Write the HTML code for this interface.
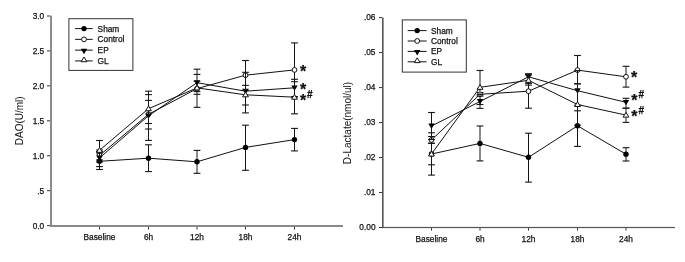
<!DOCTYPE html>
<html><head><meta charset="utf-8"><style>
html,body{margin:0;padding:0;background:#fff;}
body{width:685px;height:262px;overflow:hidden;}
svg{display:block;will-change:transform;}
text{font-family:"Liberation Sans", sans-serif;fill:#111;stroke:#111;stroke-width:0.25px;}
.t{font-size:8.3px;}
.a{font-size:10px;stroke-width:0;}
.s{font-size:16px;font-weight:bold;}
.h{font-size:10px;font-weight:bold;}
.l{fill:none;stroke:#111;stroke-width:1;}
.e{stroke:#0a0a0a;stroke-width:1.05;}
.c{stroke:#111;stroke-width:1.1;}
</style></head><body>
<svg width="685" height="262" viewBox="0 0 685 262">
<rect width="685" height="262" fill="#fff"/>
<rect x="50" y="15.6" width="2" height="211.4" fill="#8a8a8a"/>
<rect x="50" y="225" width="293" height="2" fill="#8a8a8a"/>
<rect x="47" y="15.5" width="3" height="1" fill="#333"/>
<text x="44.2" y="19" text-anchor="end" class="t">3.0</text>
<rect x="47" y="50.44" width="3" height="1" fill="#333"/>
<text x="44.2" y="53.94" text-anchor="end" class="t">2.5</text>
<rect x="47" y="85.38" width="3" height="1" fill="#333"/>
<text x="44.2" y="88.88" text-anchor="end" class="t">2.0</text>
<rect x="47" y="120.32" width="3" height="1" fill="#333"/>
<text x="44.2" y="123.82" text-anchor="end" class="t">1.5</text>
<rect x="47" y="155.26" width="3" height="1" fill="#333"/>
<text x="44.2" y="158.76" text-anchor="end" class="t">1.0</text>
<rect x="47" y="190.2" width="3" height="1" fill="#333"/>
<text x="44.2" y="193.7" text-anchor="end" class="t">.5</text>
<rect x="47" y="225.14" width="3" height="1" fill="#333"/>
<text x="44.2" y="228.64" text-anchor="end" class="t">0.0</text>
<rect x="99" y="227" width="1" height="2.5" fill="#333"/>
<text x="99.5" y="240" text-anchor="middle" class="t">Baseline</text>
<rect x="148" y="227" width="1" height="2.5" fill="#333"/>
<text x="148.5" y="240" text-anchor="middle" class="t">6h</text>
<rect x="196.5" y="227" width="1" height="2.5" fill="#333"/>
<text x="197" y="240" text-anchor="middle" class="t">12h</text>
<rect x="245" y="227" width="1" height="2.5" fill="#333"/>
<text x="245.5" y="240" text-anchor="middle" class="t">18h</text>
<rect x="294" y="227" width="1" height="2.5" fill="#333"/>
<text x="294.5" y="240" text-anchor="middle" class="t">24h</text>
<text transform="translate(23.1,120.8) rotate(-90)" text-anchor="middle" class="a">DAO(U/ml)</text>
<rect x="99" y="153" width="1" height="16.5" fill="#151515"/>
<rect x="96.1" y="152.45" width="6.8" height="1.1" fill="#151515"/>
<rect x="96.1" y="168.95" width="6.8" height="1.1" fill="#151515"/>
<rect x="148" y="144.8" width="1" height="26.8" fill="#151515"/>
<rect x="145.1" y="144.25" width="6.8" height="1.1" fill="#151515"/>
<rect x="145.1" y="171.05" width="6.8" height="1.1" fill="#151515"/>
<rect x="196" y="150.4" width="2" height="22.9" fill="#8c8c8c" style="mix-blend-mode:darken"/>
<rect x="193.6" y="149.85" width="6.8" height="1.1" fill="#151515"/>
<rect x="193.6" y="172.75" width="6.8" height="1.1" fill="#151515"/>
<rect x="245" y="125.2" width="1" height="45.1" fill="#151515"/>
<rect x="242.1" y="124.65" width="6.8" height="1.1" fill="#151515"/>
<rect x="242.1" y="169.75" width="6.8" height="1.1" fill="#151515"/>
<rect x="294" y="128.4" width="1" height="22.5" fill="#151515"/>
<rect x="291.1" y="127.85" width="6.8" height="1.1" fill="#151515"/>
<rect x="291.1" y="150.35" width="6.8" height="1.1" fill="#151515"/>
<polyline points="99.5,161.3 148.5,158.2 197,161.8 245.5,147.4 294.5,139.6" class="l"/>
<circle cx="99.5" cy="161.3" r="2.7" fill="#000"/>
<circle cx="148.5" cy="158.2" r="2.7" fill="#000"/>
<circle cx="197" cy="161.8" r="2.7" fill="#000"/>
<circle cx="245.5" cy="147.4" r="2.7" fill="#000"/>
<circle cx="294.5" cy="139.6" r="2.7" fill="#000"/>
<rect x="99" y="150" width="1" height="12" fill="#151515"/>
<rect x="96.1" y="149.45" width="6.8" height="1.1" fill="#151515"/>
<rect x="96.1" y="161.45" width="6.8" height="1.1" fill="#151515"/>
<rect x="148" y="100.4" width="1" height="28.6" fill="#151515"/>
<rect x="145.1" y="99.85" width="6.8" height="1.1" fill="#151515"/>
<rect x="145.1" y="128.45" width="6.8" height="1.1" fill="#151515"/>
<rect x="196" y="69.2" width="2" height="38.1" fill="#8c8c8c" style="mix-blend-mode:darken"/>
<rect x="193.6" y="68.65" width="6.8" height="1.1" fill="#151515"/>
<rect x="193.6" y="106.75" width="6.8" height="1.1" fill="#151515"/>
<rect x="245" y="60.5" width="1" height="29.6" fill="#151515"/>
<rect x="242.1" y="59.95" width="6.8" height="1.1" fill="#151515"/>
<rect x="242.1" y="89.55" width="6.8" height="1.1" fill="#151515"/>
<rect x="294" y="42.9" width="1" height="54.1" fill="#151515"/>
<rect x="291.1" y="42.35" width="6.8" height="1.1" fill="#151515"/>
<rect x="291.1" y="96.45" width="6.8" height="1.1" fill="#151515"/>
<polyline points="99.5,155.4 148.5,114.3 197,88.6 245.5,75.2 294.5,69.9" class="l"/>
<circle cx="99.5" cy="155.4" r="2.4000000000000004" fill="#fff" stroke="#111" stroke-width="1"/>
<circle cx="148.5" cy="114.3" r="2.4000000000000004" fill="#fff" stroke="#111" stroke-width="1"/>
<circle cx="197" cy="88.6" r="2.4000000000000004" fill="#fff" stroke="#111" stroke-width="1"/>
<circle cx="245.5" cy="75.2" r="2.4000000000000004" fill="#fff" stroke="#111" stroke-width="1"/>
<circle cx="294.5" cy="69.9" r="2.4000000000000004" fill="#fff" stroke="#111" stroke-width="1"/>
<rect x="99" y="151.5" width="1" height="15.1" fill="#151515"/>
<rect x="96.1" y="150.95" width="6.8" height="1.1" fill="#151515"/>
<rect x="96.1" y="166.05" width="6.8" height="1.1" fill="#151515"/>
<rect x="148" y="91.2" width="1" height="49.2" fill="#151515"/>
<rect x="145.1" y="90.65" width="6.8" height="1.1" fill="#151515"/>
<rect x="145.1" y="139.85" width="6.8" height="1.1" fill="#151515"/>
<rect x="196" y="74.4" width="2" height="17.2" fill="#8c8c8c" style="mix-blend-mode:darken"/>
<rect x="193.6" y="73.85" width="6.8" height="1.1" fill="#151515"/>
<rect x="193.6" y="91.05" width="6.8" height="1.1" fill="#151515"/>
<rect x="245" y="85.35" width="1" height="19.65" fill="#151515"/>
<rect x="242.1" y="84.8" width="6.8" height="1.1" fill="#151515"/>
<rect x="242.1" y="104.45" width="6.8" height="1.1" fill="#151515"/>
<rect x="294" y="79.3" width="1" height="17.3" fill="#151515"/>
<rect x="291.1" y="78.75" width="6.8" height="1.1" fill="#151515"/>
<rect x="291.1" y="96.05" width="6.8" height="1.1" fill="#151515"/>
<polyline points="99.5,157.9 148.5,115.8 197,82.7 245.5,91.2 294.5,87.8" class="l"/>
<path d="M96.3 155.5L102.7 155.5L99.5 160.94Z" fill="#000"/>
<path d="M145.3 113.4L151.7 113.4L148.5 118.84Z" fill="#000"/>
<path d="M193.8 80.3L200.2 80.3L197 85.74Z" fill="#000"/>
<path d="M242.3 88.8L248.7 88.8L245.5 94.24Z" fill="#000"/>
<path d="M291.3 85.4L297.7 85.4L294.5 90.84Z" fill="#000"/>
<rect x="99" y="140.5" width="1" height="19.5" fill="#151515"/>
<rect x="96.1" y="139.95" width="6.8" height="1.1" fill="#151515"/>
<rect x="96.1" y="159.45" width="6.8" height="1.1" fill="#151515"/>
<rect x="148" y="94.6" width="1" height="28.9" fill="#151515"/>
<rect x="145.1" y="94.05" width="6.8" height="1.1" fill="#151515"/>
<rect x="145.1" y="122.95" width="6.8" height="1.1" fill="#151515"/>
<rect x="196" y="81.2" width="2" height="13.1" fill="#8c8c8c" style="mix-blend-mode:darken"/>
<rect x="193.6" y="80.65" width="6.8" height="1.1" fill="#151515"/>
<rect x="193.6" y="93.75" width="6.8" height="1.1" fill="#151515"/>
<rect x="245" y="72.3" width="1" height="40.6" fill="#151515"/>
<rect x="242.1" y="71.75" width="6.8" height="1.1" fill="#151515"/>
<rect x="242.1" y="112.35" width="6.8" height="1.1" fill="#151515"/>
<rect x="294" y="81.7" width="1" height="32.1" fill="#151515"/>
<rect x="291.1" y="81.15" width="6.8" height="1.1" fill="#151515"/>
<rect x="291.1" y="113.25" width="6.8" height="1.1" fill="#151515"/>
<polyline points="99.5,150.3 148.5,108.7 197,87.9 245.5,94.8 294.5,97.2" class="l"/>
<path d="M96.6 152.33L102.4 152.33L99.5 147.55Z" fill="#fff" stroke="#111" stroke-width="1"/>
<path d="M145.6 110.73L151.4 110.73L148.5 105.95Z" fill="#fff" stroke="#111" stroke-width="1"/>
<path d="M194.1 89.93L199.9 89.93L197 85.15Z" fill="#fff" stroke="#111" stroke-width="1"/>
<path d="M242.6 96.83L248.4 96.83L245.5 92.05Z" fill="#fff" stroke="#111" stroke-width="1"/>
<path d="M291.6 99.23L297.4 99.23L294.5 94.45Z" fill="#fff" stroke="#111" stroke-width="1"/>
<text x="300" y="77.3" class="s">*</text>
<text x="300" y="95.4" class="s">*</text>
<text x="300" y="105.6" class="s">*</text>
<text x="307.1" y="97.7" class="h">#</text>
<rect x="68.9" y="18.7" width="64" height="51.7" fill="none" stroke="#333" stroke-width="1"/>
<line x1="75.1" y1="28.6" x2="92.7" y2="28.6" class="l"/>
<circle cx="84" cy="28.6" r="2.7" fill="#000"/>
<text x="97.6" y="31.6" class="t">Sham</text>
<line x1="75.1" y1="39.37" x2="92.7" y2="39.37" class="l"/>
<circle cx="84" cy="39.37" r="2.4000000000000004" fill="#fff" stroke="#111" stroke-width="1"/>
<text x="97.6" y="42.37" class="t">Control</text>
<line x1="75.1" y1="50.14" x2="92.7" y2="50.14" class="l"/>
<path d="M80.8 48.74L87.2 48.74L84 54.18Z" fill="#000"/>
<text x="97.6" y="53.14" class="t">EP</text>
<line x1="75.1" y1="60.91" x2="92.7" y2="60.91" class="l"/>
<path d="M81.1 61.74L86.9 61.74L84 56.95Z" fill="#fff" stroke="#111" stroke-width="1"/>
<text x="97.6" y="63.91" class="t">GL</text>
<rect x="382" y="17.5" width="1.6" height="210.6" fill="#555"/>
<rect x="382" y="226.9" width="293" height="1.2" fill="#555"/>
<rect x="379" y="17.12" width="3" height="1" fill="#333"/>
<text x="375.5" y="20.12" text-anchor="end" class="t">.06</text>
<rect x="379" y="52.1" width="3" height="1" fill="#333"/>
<text x="375.5" y="55.1" text-anchor="end" class="t">.05</text>
<rect x="379" y="87.08" width="3" height="1" fill="#333"/>
<text x="375.5" y="90.08" text-anchor="end" class="t">.04</text>
<rect x="379" y="122.06" width="3" height="1" fill="#333"/>
<text x="375.5" y="125.06" text-anchor="end" class="t">.03</text>
<rect x="379" y="157.04" width="3" height="1" fill="#333"/>
<text x="375.5" y="160.04" text-anchor="end" class="t">.02</text>
<rect x="379" y="192.02" width="3" height="1" fill="#333"/>
<text x="375.5" y="195.02" text-anchor="end" class="t">.01</text>
<rect x="379" y="227" width="3" height="1" fill="#333"/>
<text x="375.5" y="230" text-anchor="end" class="t">0.00</text>
<rect x="431" y="228.1" width="1" height="2.5" fill="#333"/>
<text x="431.5" y="241.9" text-anchor="middle" class="t">Baseline</text>
<rect x="479.5" y="228.1" width="1" height="2.5" fill="#333"/>
<text x="480" y="241.9" text-anchor="middle" class="t">6h</text>
<rect x="528" y="228.1" width="1" height="2.5" fill="#333"/>
<text x="528.5" y="241.9" text-anchor="middle" class="t">12h</text>
<rect x="577" y="228.1" width="1" height="2.5" fill="#333"/>
<text x="577.5" y="241.9" text-anchor="middle" class="t">18h</text>
<rect x="625.5" y="228.1" width="1" height="2.5" fill="#333"/>
<text x="626" y="241.9" text-anchor="middle" class="t">24h</text>
<text transform="translate(350.8,123) rotate(-90)" text-anchor="middle" class="a">D-Lactate(nmol/ul)</text>
<rect x="431" y="132.8" width="1" height="42.3" fill="#151515"/>
<rect x="428.1" y="132.25" width="6.8" height="1.1" fill="#151515"/>
<rect x="428.1" y="174.55" width="6.8" height="1.1" fill="#151515"/>
<rect x="479" y="126" width="2" height="34.9" fill="#8c8c8c" style="mix-blend-mode:darken"/>
<rect x="476.6" y="125.45" width="6.8" height="1.1" fill="#151515"/>
<rect x="476.6" y="160.35" width="6.8" height="1.1" fill="#151515"/>
<rect x="528" y="133.2" width="1" height="48.9" fill="#151515"/>
<rect x="525.1" y="132.65" width="6.8" height="1.1" fill="#151515"/>
<rect x="525.1" y="181.55" width="6.8" height="1.1" fill="#151515"/>
<rect x="577" y="105.2" width="1" height="41.2" fill="#151515"/>
<rect x="574.1" y="104.65" width="6.8" height="1.1" fill="#151515"/>
<rect x="574.1" y="145.85" width="6.8" height="1.1" fill="#151515"/>
<rect x="625" y="147.7" width="2" height="13.3" fill="#8c8c8c" style="mix-blend-mode:darken"/>
<rect x="622.6" y="147.15" width="6.8" height="1.1" fill="#151515"/>
<rect x="622.6" y="160.45" width="6.8" height="1.1" fill="#151515"/>
<polyline points="431.5,154 480,143.4 528.5,157.3 577.5,125.8 626,154.2" class="l"/>
<circle cx="431.5" cy="154" r="2.7" fill="#000"/>
<circle cx="480" cy="143.4" r="2.7" fill="#000"/>
<circle cx="528.5" cy="157.3" r="2.7" fill="#000"/>
<circle cx="577.5" cy="125.8" r="2.7" fill="#000"/>
<circle cx="626" cy="154.2" r="2.7" fill="#000"/>
<rect x="431" y="136.5" width="1" height="6.8" fill="#151515"/>
<rect x="428.1" y="135.95" width="6.8" height="1.1" fill="#151515"/>
<rect x="428.1" y="142.75" width="6.8" height="1.1" fill="#151515"/>
<rect x="479" y="92.5" width="2" height="3.6" fill="#8c8c8c" style="mix-blend-mode:darken"/>
<rect x="476.6" y="91.95" width="6.8" height="1.1" fill="#151515"/>
<rect x="476.6" y="95.55" width="6.8" height="1.1" fill="#151515"/>
<rect x="528" y="74.2" width="1" height="34" fill="#151515"/>
<rect x="525.1" y="73.65" width="6.8" height="1.1" fill="#151515"/>
<rect x="525.1" y="107.65" width="6.8" height="1.1" fill="#151515"/>
<rect x="577" y="55.5" width="1" height="28.3" fill="#151515"/>
<rect x="574.1" y="54.95" width="6.8" height="1.1" fill="#151515"/>
<rect x="574.1" y="83.25" width="6.8" height="1.1" fill="#151515"/>
<rect x="625" y="66.3" width="2" height="20.8" fill="#8c8c8c" style="mix-blend-mode:darken"/>
<rect x="622.6" y="65.75" width="6.8" height="1.1" fill="#151515"/>
<rect x="622.6" y="86.55" width="6.8" height="1.1" fill="#151515"/>
<polyline points="431.5,139.9 480,94.3 528.5,91.2 577.5,70.1 626,76.8" class="l"/>
<circle cx="431.5" cy="139.9" r="2.4000000000000004" fill="#fff" stroke="#111" stroke-width="1"/>
<circle cx="480" cy="94.3" r="2.4000000000000004" fill="#fff" stroke="#111" stroke-width="1"/>
<circle cx="528.5" cy="91.2" r="2.4000000000000004" fill="#fff" stroke="#111" stroke-width="1"/>
<circle cx="577.5" cy="70.1" r="2.4000000000000004" fill="#fff" stroke="#111" stroke-width="1"/>
<circle cx="626" cy="76.8" r="2.4000000000000004" fill="#fff" stroke="#111" stroke-width="1"/>
<rect x="431" y="112.5" width="1" height="27" fill="#151515"/>
<rect x="428.1" y="111.95" width="6.8" height="1.1" fill="#151515"/>
<rect x="428.1" y="138.95" width="6.8" height="1.1" fill="#151515"/>
<rect x="479" y="94.6" width="2" height="13.8" fill="#8c8c8c" style="mix-blend-mode:darken"/>
<rect x="476.6" y="94.05" width="6.8" height="1.1" fill="#151515"/>
<rect x="476.6" y="107.85" width="6.8" height="1.1" fill="#151515"/>
<rect x="528" y="73.8" width="1" height="9.6" fill="#151515"/>
<rect x="525.1" y="73.25" width="6.8" height="1.1" fill="#151515"/>
<rect x="525.1" y="82.85" width="6.8" height="1.1" fill="#151515"/>
<rect x="577" y="70.6" width="1" height="40.2" fill="#151515"/>
<rect x="574.1" y="70.05" width="6.8" height="1.1" fill="#151515"/>
<rect x="574.1" y="110.25" width="6.8" height="1.1" fill="#151515"/>
<rect x="625" y="98.3" width="2" height="9.9" fill="#8c8c8c" style="mix-blend-mode:darken"/>
<rect x="622.6" y="97.75" width="6.8" height="1.1" fill="#151515"/>
<rect x="622.6" y="107.65" width="6.8" height="1.1" fill="#151515"/>
<polyline points="431.5,126 480,101.5 528.5,76.8 577.5,90.7 626,102.3" class="l"/>
<path d="M428.3 123.6L434.7 123.6L431.5 129.04Z" fill="#000"/>
<path d="M476.8 99.1L483.2 99.1L480 104.54Z" fill="#000"/>
<path d="M525.3 74.4L531.7 74.4L528.5 79.84Z" fill="#000"/>
<path d="M574.3 88.3L580.7 88.3L577.5 93.74Z" fill="#000"/>
<path d="M622.8 99.9L629.2 99.9L626 105.34Z" fill="#000"/>
<rect x="431" y="143.3" width="1" height="21.5" fill="#151515"/>
<rect x="428.1" y="142.75" width="6.8" height="1.1" fill="#151515"/>
<rect x="428.1" y="164.25" width="6.8" height="1.1" fill="#151515"/>
<rect x="479" y="70.5" width="2" height="34" fill="#8c8c8c" style="mix-blend-mode:darken"/>
<rect x="476.6" y="69.95" width="6.8" height="1.1" fill="#151515"/>
<rect x="476.6" y="103.95" width="6.8" height="1.1" fill="#151515"/>
<rect x="528" y="74.9" width="1" height="10.2" fill="#151515"/>
<rect x="525.1" y="74.35" width="6.8" height="1.1" fill="#151515"/>
<rect x="525.1" y="84.55" width="6.8" height="1.1" fill="#151515"/>
<rect x="577" y="83.8" width="1" height="41.4" fill="#151515"/>
<rect x="574.1" y="83.25" width="6.8" height="1.1" fill="#151515"/>
<rect x="574.1" y="124.65" width="6.8" height="1.1" fill="#151515"/>
<rect x="625" y="108.2" width="2" height="14.2" fill="#8c8c8c" style="mix-blend-mode:darken"/>
<rect x="622.6" y="107.65" width="6.8" height="1.1" fill="#151515"/>
<rect x="622.6" y="121.85" width="6.8" height="1.1" fill="#151515"/>
<polyline points="431.5,154 480,87.3 528.5,80.3 577.5,104.5 626,115.1" class="l"/>
<path d="M428.6 156.03L434.4 156.03L431.5 151.25Z" fill="#fff" stroke="#111" stroke-width="1"/>
<path d="M477.1 89.33L482.9 89.33L480 84.55Z" fill="#fff" stroke="#111" stroke-width="1"/>
<path d="M525.6 82.33L531.4 82.33L528.5 77.55Z" fill="#fff" stroke="#111" stroke-width="1"/>
<path d="M574.6 106.53L580.4 106.53L577.5 101.75Z" fill="#fff" stroke="#111" stroke-width="1"/>
<path d="M623.1 117.13L628.9 117.13L626 112.34Z" fill="#fff" stroke="#111" stroke-width="1"/>
<text x="631" y="82.6" class="s">*</text>
<text x="631.3" y="105.9" class="s">*</text>
<text x="638.4" y="98" class="h">#</text>
<text x="631.3" y="121.9" class="s">*</text>
<text x="638.4" y="114" class="h">#</text>
<rect x="402.3" y="19.9" width="64" height="52.2" fill="none" stroke="#333" stroke-width="1"/>
<line x1="407.7" y1="30.6" x2="426.6" y2="30.6" class="l"/>
<circle cx="417.2" cy="30.6" r="2.7" fill="#000"/>
<text x="431" y="33.6" class="t">Sham</text>
<line x1="407.7" y1="41" x2="426.6" y2="41" class="l"/>
<circle cx="417.2" cy="41" r="2.4000000000000004" fill="#fff" stroke="#111" stroke-width="1"/>
<text x="431" y="44" class="t">Control</text>
<line x1="407.7" y1="51.4" x2="426.6" y2="51.4" class="l"/>
<path d="M414 50L420.4 50L417.2 55.44Z" fill="#000"/>
<text x="431" y="54.4" class="t">EP</text>
<line x1="407.7" y1="61.8" x2="426.6" y2="61.8" class="l"/>
<path d="M414.3 62.63L420.1 62.63L417.2 57.84Z" fill="#fff" stroke="#111" stroke-width="1"/>
<text x="431" y="64.8" class="t">GL</text>
</svg>
</body></html>
